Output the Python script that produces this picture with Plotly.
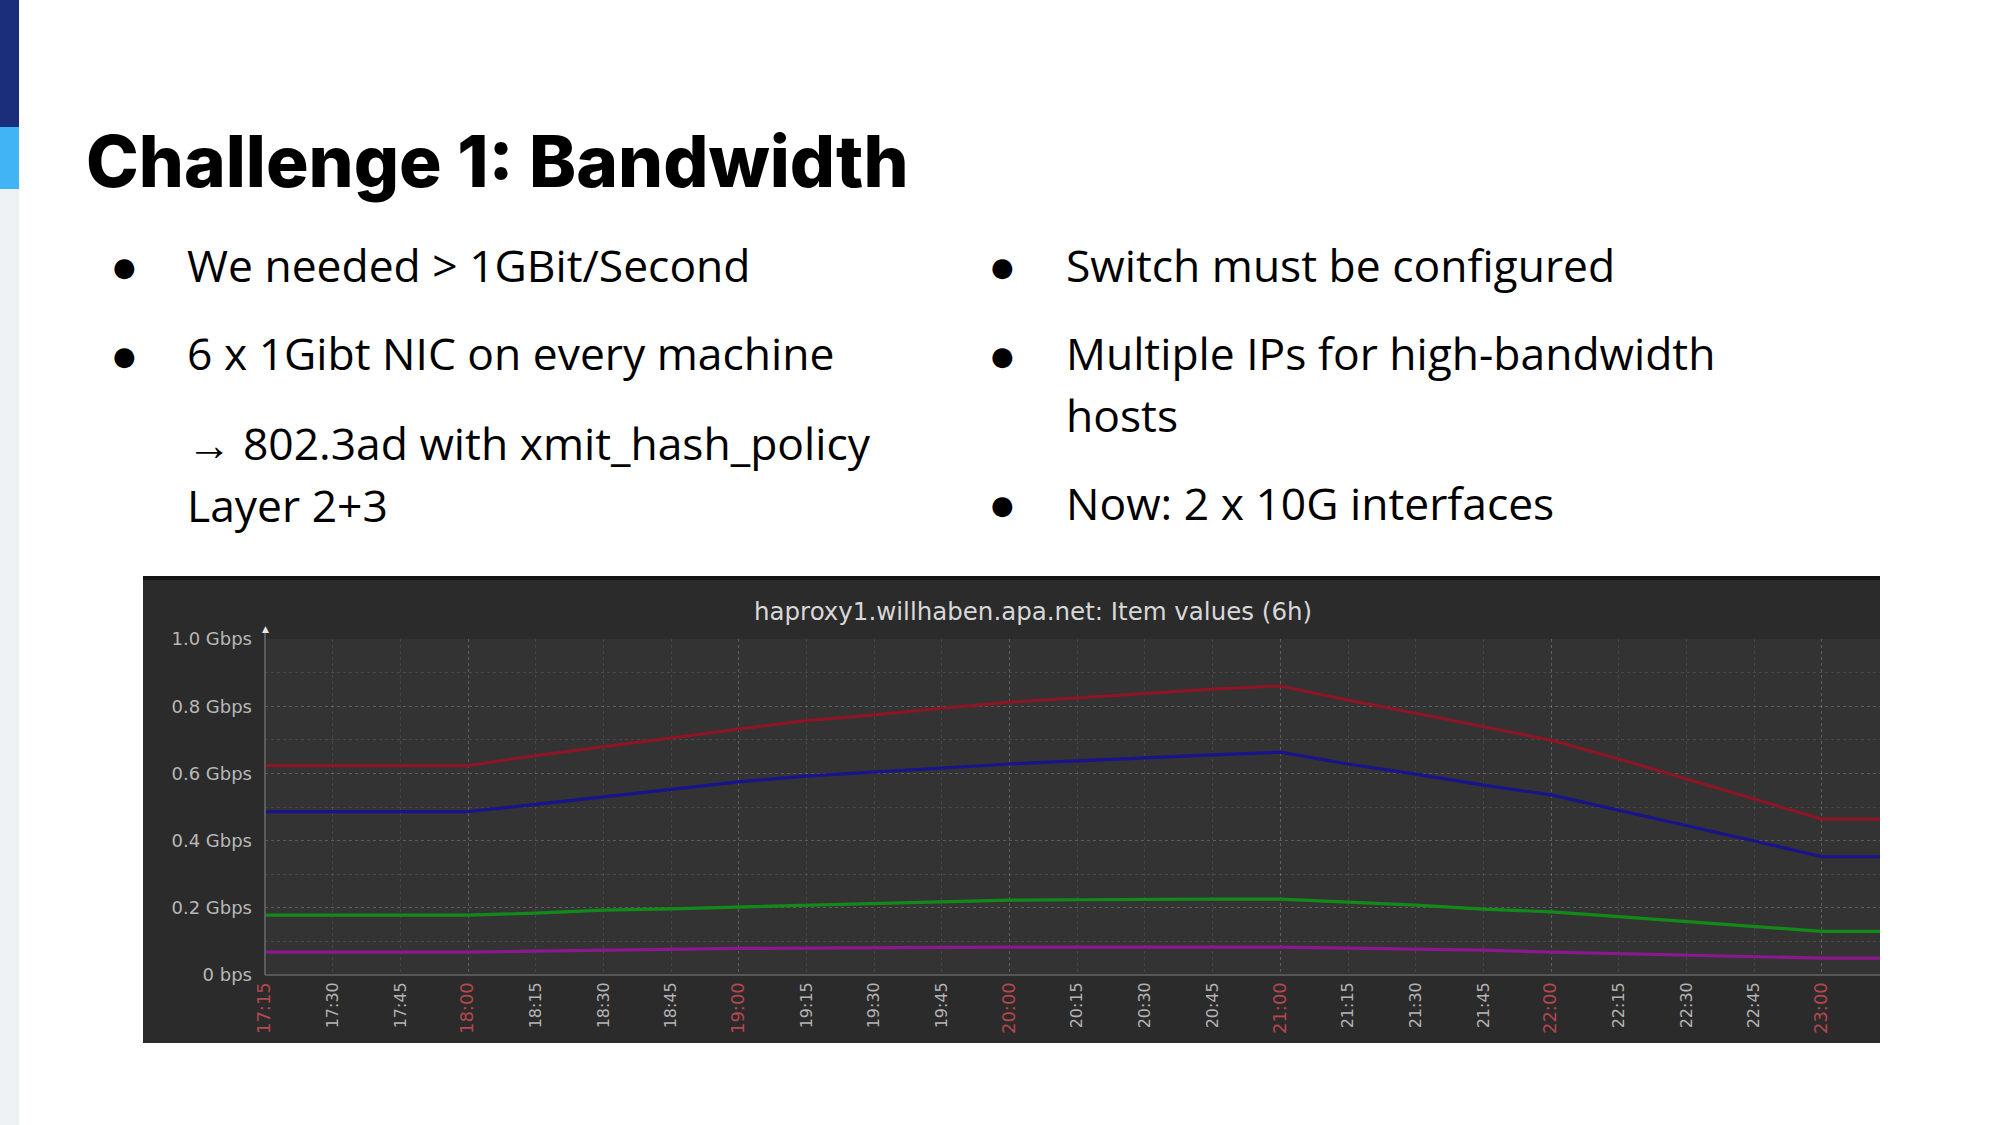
import plotly.graph_objects as go

# --- data (Gbps) ---
times = ['17:15', '17:30', '17:45', '18:00', '18:15', '18:30', '18:45', '19:00', '19:15',
         '19:30', '19:45', '20:00', '20:15', '20:30', '20:45', '21:00', '21:15', '21:30',
         '21:45', '22:00', '22:15', '22:30', '22:45', '23:00', '23:15']
red_vals = [0.623, 0.623, 0.623, 0.623, 0.653, 0.680, 0.706, 0.732, 0.757, 0.774, 0.794, 0.812,
            0.825, 0.838, 0.851, 0.860, 0.818, 0.779, 0.738, 0.699, 0.643, 0.583, 0.524, 0.464, 0.464]
blue_vals = [0.486, 0.486, 0.486, 0.486, 0.508, 0.531, 0.553, 0.575, 0.592, 0.604, 0.616, 0.628,
             0.637, 0.647, 0.655, 0.663, 0.628, 0.598, 0.565, 0.536, 0.491, 0.444, 0.399, 0.352, 0.352]
green_vals = [0.178, 0.178, 0.178, 0.178, 0.184, 0.193, 0.197, 0.202, 0.208, 0.214, 0.218, 0.223,
              0.224, 0.226, 0.226, 0.226, 0.218, 0.208, 0.196, 0.188, 0.174, 0.159, 0.144, 0.130, 0.130]
purple_vals = [0.068, 0.068, 0.068, 0.068, 0.071, 0.074, 0.076, 0.079, 0.080, 0.080, 0.082, 0.083,
               0.083, 0.083, 0.083, 0.083, 0.080, 0.077, 0.074, 0.068, 0.064, 0.059, 0.054, 0.050, 0.050]
y_ticks = [0, 0.2, 0.4, 0.6, 0.8, 1.0]
y_labels = ['0 bps', '0.2 Gbps', '0.4 Gbps', '0.6 Gbps', '0.8 Gbps', '1.0 Gbps']

W, H = 2000, 1125
day = '2024-01-01 '
x_dates = [day + t for t in times]


def px(x):
    return x / W


def py(y):
    return 1 - y / H


def rect(x0, y0, x1, y1, color):
    return dict(type='rect', xref='paper', yref='paper', x0=px(x0), x1=px(x1), y0=py(y1), y1=py(y0),
                fillcolor=color, line_width=0, layer='below')


def label(x, y, text, size, font='Open Sans', color='#000000', weight=400, anchor='left'):
    return dict(text=text, xref='paper', yref='paper', x=px(x), y=py(y), xanchor=anchor, yanchor='middle',
                showarrow=False, font=dict(family=font, size=size, color=color, weight=weight))


def bullet(x, y):
    return label(x, y, '●', 26, font='DejaVu Sans', anchor='center')


fig = go.Figure()
for vals, col in [(red_vals, '#8a1626'), (blue_vals, '#17148c'), (green_vals, '#128a1a'), (purple_vals, '#8a188e')]:
    fig.add_trace(go.Scatter(x=x_dates, y=vals, mode='lines', line=dict(color=col, width=3.2), showlegend=False))

# hours are red and a bit bigger on the time axis
tick_text = []
for t in times:
    if t.endswith(':00') or t == '17:15':
        tick_text.append('<span style="color:#b5474f;font-size:18px">' + t + '</span>')
    else:
        tick_text.append(t)

shapes = [
    rect(0, 0, 19, H, '#eef2f5'),
    rect(0, 0, 19, 127, '#1a2e7c'),
    rect(0, 127, 19, 189, '#40b4f5'),
    rect(143, 576, 1880, 1043, '#2b2b2b'),
    rect(143, 576, 1880, 580, '#141414'),
    rect(265, 639, 1880, 975, '#333333'),
]

annotations = [
    label(84, 161, 'Challenge 1: Bandwidth', 71, font='Inter', weight=800),
    bullet(124, 267),
    label(185, 265, 'We needed &gt; 1GBit/Second', 44.4),
    bullet(124, 356),
    label(185, 353, '6 x 1Gibt NIC on every machine', 44.4),
    label(185, 443, '→ 802.3ad with xmit_hash_policy', 44.4),
    label(185, 505, 'Layer 2+3', 44.4),
    bullet(1002, 267),
    label(1064, 265, 'Switch must be configured', 44.4),
    bullet(1002, 356),
    label(1064, 353, 'Multiple IPs for high-bandwidth', 44.4),
    label(1064, 415, 'hosts', 44.4),
    bullet(1002, 505),
    label(1064, 503, 'Now: 2 x 10G interfaces', 44.4),
    label(1033, 611, 'haproxy1.willhaben.apa.net: Item values (6h)', 24.5, font='DejaVu Sans', color='#d8d8d8', anchor='center'),
    label(265, 629, '▲', 9, font='DejaVu Sans', color='#e8e8e8', anchor='center'),
]

fig.update_layout(
    width=W, height=H,
    margin=dict(l=0, r=0, t=0, b=0),
    paper_bgcolor='#ffffff',
    plot_bgcolor='rgba(0,0,0,0)',
    shapes=shapes,
    annotations=annotations,
    xaxis=dict(
        domain=[px(265), px(1880)],
        type='date',
        range=[day + '17:15', day + '23:12:53'],
        tickmode='array', tickvals=x_dates, ticktext=tick_text, tickangle=-90,
        tickfont=dict(family='DejaVu Sans', size=16, color='#b4b4b4'),
        ticklabelstandoff=3,
        showgrid=True, gridcolor='rgba(190,190,190,0.14)', griddash='dot', gridwidth=1,
        minor=dict(tick0=day + '17:00', dtick=3600000, showgrid=True,
                   gridcolor='rgba(200,200,200,0.2)', griddash='dot', gridwidth=1.2),
        showline=False, zeroline=False, ticks='', automargin=False,
    ),
    yaxis=dict(
        domain=[py(975), py(639)],
        range=[0, 1.0],
        tickmode='array', tickvals=y_ticks, ticktext=y_labels,
        tickfont=dict(family='DejaVu Sans', size=18, color='#b8b8b8'),
        ticklabelstandoff=12,
        showgrid=True, gridcolor='rgba(190,190,190,0.16)', griddash='dot', gridwidth=1,
        minor=dict(dtick=0.1, showgrid=True, gridcolor='rgba(190,190,190,0.16)', griddash='dot', gridwidth=1),
        showline=False, zeroline=True, zerolinecolor='#565656', zerolinewidth=2, ticks='', automargin=False,
    ),
)
# axis stem on the left, drawn up past 1.0 to the little arrow
fig.add_shape(type='line', xref='paper', yref='paper', x0=px(265), x1=px(265), y0=py(975), y1=py(629),
              line=dict(color='#5c5c5c', width=2))

fig.write_html("out.html", config={'displayModeBar': False}, post_script="document.body.style.margin='0';")
